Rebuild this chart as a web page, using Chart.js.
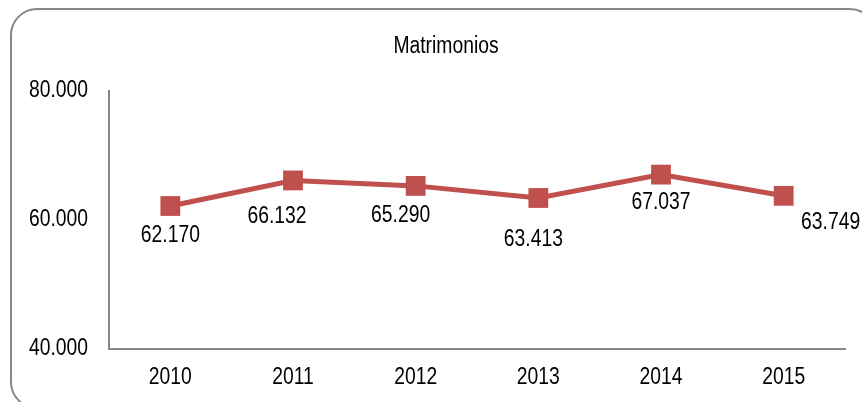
<!DOCTYPE html>
<html>
<head>
<meta charset="utf-8">
<script src="https://cdn.jsdelivr.net/npm/chart.js@4"></script>
<style>
    html, body { margin: 0; padding: 0; background: #ffffff; }
    #wrap { width: 862px; height: 402px; position: relative; }
</style>
</head>
<body>
<div id="wrap"><canvas id="chart"></canvas></div>
<script>
// Datos del gráfico
const years = ['2010', '2011', '2012', '2013', '2014', '2015'];
const matrimonios = [62170, 66132, 65290, 63413, 67037, 63749];
const yTicks = [40000, 60000, 80000];
const chartTitle = 'Matrimonios';

// Desplazamiento de las etiquetas respecto al punto (estilo)
const labelDx = [0, -16, -15, -5, 0, 47];
const labelDy = [30, 36, 30, 42, 28, 27];

const FONT = '23px "Liberation Sans", Arial, sans-serif';
const SQUEEZE = 0.84; // letra estrecha tipo Arial Narrow
const LINE_COLOR = '#c0504d';
const AXIS_COLOR = '#868686';

function fmt(v) {
    return v.toLocaleString('de-DE');
}

// Texto estrecho: escala horizontal
function narrowText(ctx, text, x, y, align) {
    ctx.save();
    ctx.translate(x, y);
    ctx.scale(SQUEEZE, 1);
    ctx.font = FONT;
    ctx.fillStyle = '#000000';
    ctx.textAlign = align;
    ctx.textBaseline = 'middle';
    ctx.fillText(text, 0, 0);
    ctx.restore();
}

// Marco redondeado alrededor del gráfico
const framePlugin = {
    id: 'frame',
    beforeDraw(chart) {
        const ctx = chart.ctx;
        const x = 11, y = 9, w = 865, h = 399, r = 26;
        ctx.save();
        ctx.strokeStyle = AXIS_COLOR;
        ctx.lineWidth = 2;
        ctx.beginPath();
        ctx.moveTo(x + r, y);
        ctx.lineTo(x + w - r, y);
        ctx.arcTo(x + w, y, x + w, y + r, r);
        ctx.lineTo(x + w, y + h - r);
        ctx.arcTo(x + w, y + h, x + w - r, y + h, r);
        ctx.lineTo(x + r, y + h);
        ctx.arcTo(x, y + h, x, y + h - r, r);
        ctx.lineTo(x, y + r);
        ctx.arcTo(x, y, x + r, y, r);
        ctx.closePath();
        ctx.stroke();
        ctx.restore();
    }
};

// Título, ticks y etiquetas de valores
const textPlugin = {
    id: 'texts',
    afterDatasetsDraw(chart) {
        const ctx = chart.ctx;
        const xs = chart.scales.x;
        const ys = chart.scales.y;

        narrowText(ctx, chartTitle, 446, 47, 'center');

        ys.ticks.forEach(t => {
            narrowText(ctx, fmt(t.value), xs.left - 21, ys.getPixelForValue(t.value), 'right');
        });

        years.forEach((label, i) => {
            narrowText(ctx, label, xs.getPixelForTick(i), ys.bottom + 29, 'center');
        });

        const meta = chart.getDatasetMeta(0);
        meta.data.forEach((pt, i) => {
            narrowText(ctx, fmt(matrimonios[i]), pt.x + labelDx[i], pt.y + labelDy[i], 'center');
        });
    }
};

const ctx = document.getElementById('chart').getContext('2d');
new Chart(ctx, {
    type: 'line',
    data: {
        labels: years,
        datasets: [{
            label: chartTitle,
            data: matrimonios,
            borderColor: LINE_COLOR,
            backgroundColor: LINE_COLOR,
            borderWidth: 5,
            pointStyle: 'rect',
            pointRadius: 14,
            pointBorderWidth: 0,
            pointBackgroundColor: LINE_COLOR,
            tension: 0
        }]
    },
    options: {
        responsive: true,
        maintainAspectRatio: false,
        animation: false,
        layout: { padding: { left: 0, right: 17, top: 91, bottom: 0 } },
        plugins: {
            legend: { display: false },
            tooltip: { enabled: false },
            title: { display: false }
        },
        scales: {
            x: {
                offset: true,
                grid: { display: false, drawTicks: false },
                border: { display: true, color: AXIS_COLOR, width: 2 },
                ticks: { display: false },
                afterFit(scale) { scale.height = 53; }
            },
            y: {
                min: 40000,
                max: 80000,
                grid: { display: false, drawTicks: false },
                border: { display: true, color: AXIS_COLOR, width: 2 },
                afterBuildTicks(scale) {
                    scale.ticks = yTicks.map(v => ({ value: v }));
                },
                ticks: { display: false },
                afterFit(scale) { scale.width = 109; }
            }
        }
    },
    plugins: [framePlugin, textPlugin]
});
</script>
</body>
</html>
